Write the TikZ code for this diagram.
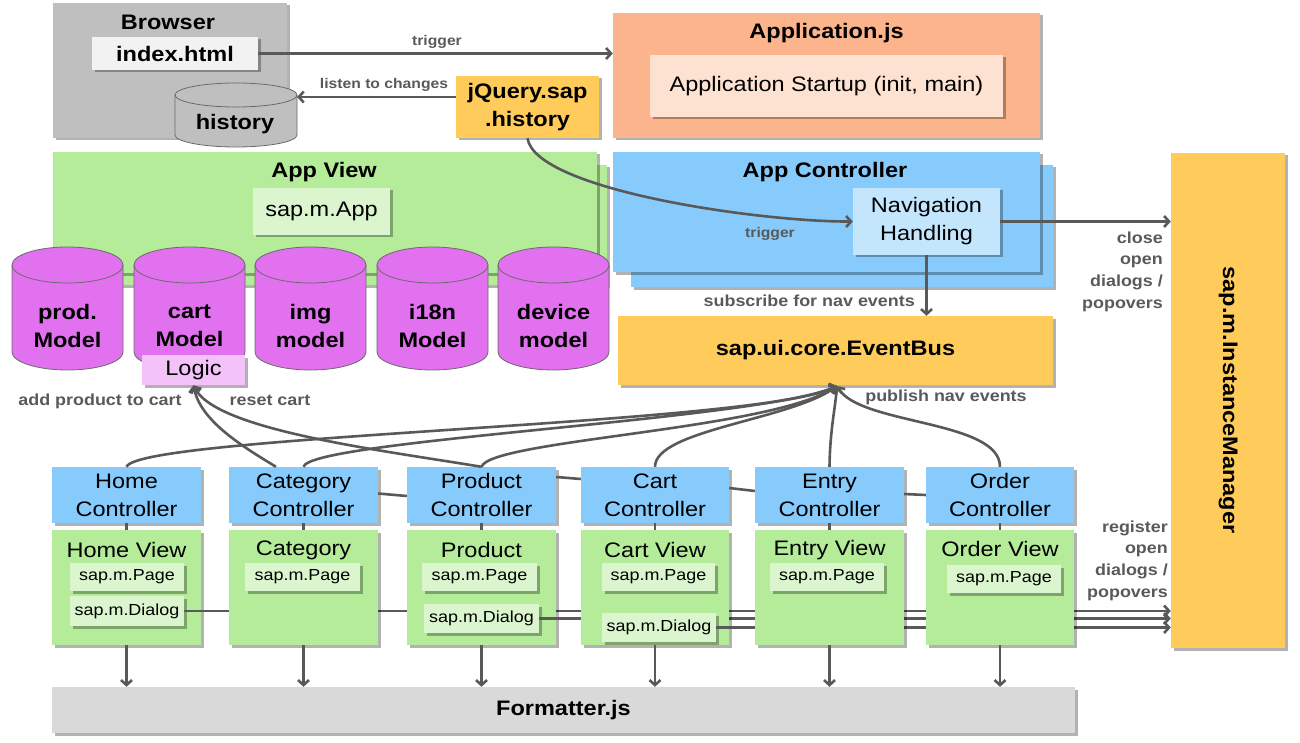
\documentclass[tikz,border=0pt]{standalone}
\usepackage{fontspec}
\setmainfont{Liberation Sans}[FakeStretch=1.12]
\usetikzlibrary{arrows.meta,shadows}
\definecolor{lineg}{HTML}{595959}
\definecolor{cylline}{HTML}{6A6A6A}
\definecolor{browsergray}{HTML}{BFBFBF}
\definecolor{idxwhite}{HTML}{F2F2F2}
\definecolor{appjs}{HTML}{FCB48C}
\definecolor{appjsin}{HTML}{FDE2D2}
\definecolor{sapyel}{HTML}{FFCC5C}
\definecolor{viewgreen}{HTML}{B4EC9A}
\definecolor{viewin}{HTML}{DBF6CE}
\definecolor{ctrlblue}{HTML}{87CBFC}
\definecolor{navin}{HTML}{C4E6FD}
\definecolor{magm}{HTML}{E271F0}
\definecolor{logicpink}{HTML}{F2C2F8}
\definecolor{fmtgray}{HTML}{D9D9D9}
\newcommand\ftitle{\fontsize{21}{28}\selectfont\bfseries}
\newcommand\freg{\fontsize{21}{28}\selectfont}
\newcommand\fsmall{\fontsize{16}{20}\selectfont}
\newcommand\flab{\fontsize{16}{21.7}\selectfont\bfseries}
\newcommand\flabs{\fontsize{14}{17}\selectfont\bfseries}
% cx, top edge, bottom edge, rx, ry, fill
\newcommand\dbcyl[6]{%
  \path[draw=cylline, line width=0.8pt, fill=#6] (#1-#4,#2+#5) -- (#1-#4,#3-#5)
    arc[start angle=180,end angle=360,x radius=#4pt,y radius=#5pt] -- (#1+#4,#2+#5)
    arc[start angle=0,end angle=180,x radius=#4pt,y radius=#5pt] -- cycle;
  \draw[cylline, line width=0.8pt] (#1-#4,#2+#5) arc[start angle=180,end angle=360,x radius=#4pt,y radius=#5pt];
}
\tikzset{
  shd/.style={drop shadow={shadow xshift=2.5pt,shadow yshift=-2.5pt,opacity=0.3,fill=black}},
  blk/.style={rectangle, shd, inner sep=0pt, align=center},
  conn/.style={draw=lineg, line width=2.6pt},
  arr/.style={conn, -{Straight Barb[length=5pt,width=11pt]}},
  lab/.style={font=\flab, text=lineg, inner sep=0pt, align=center},
  labs/.style={font=\flabs, text=lineg, inner sep=0pt, align=center},
  txt/.style={inner sep=0pt, align=center}
}
\begin{document}
\begin{tikzpicture}[x=1pt,y=-1pt]
\useasboundingbox (0,0) rectangle (1300,743);
% ---------- Browser ----------
\node[blk, fill=browsergray, minimum width=234, minimum height=135] (browser) at (170,70.5) {};
\node[txt, font=\ftitle] (browsert) at (168,22) {Browser};
\node[blk, fill=idxwhite, minimum width=166, minimum height=33, font=\ftitle] (idx) at (175,53.5) {index.html};
\dbcyl{236}{83}{147}{61}{12}{browsergray}
\node[txt, font=\ftitle] (hist) at (235,124) {history};
\coordinate (histe) at (297,97);
% ---------- jQuery ----------
\node[blk, fill=sapyel, minimum width=143, minimum height=62, font=\ftitle] (jq) at (527.5,107) {jQuery.sap\\.history};
\coordinate (jql) at (456,97);
% ---------- Application.js ----------
\node[blk, fill=appjs, minimum width=427, minimum height=125] (aj) at (826.5,75.5) {};
\node[txt, font=\ftitle] (ajt) at (826.5,33) {Application.js};
\node[blk, fill=appjsin, minimum width=353, minimum height=62, font=\freg] (ast) at (826.5,86) {Application Startup (init, main)};
% ---------- App View ----------
\node[blk, fill=viewgreen, minimum width=546, minimum height=120] (avb) at (334,225) {};
\node[blk, fill=viewgreen, minimum width=544, minimum height=121] (av) at (325,212.5) {};
\node[txt, font=\ftitle] (avt) at (324,172) {App View};
\node[blk, fill=viewin, minimum width=137, minimum height=47, font=\freg] (sapp) at (321.5,211.5) {sap.m.App};
% ---------- App Controller ----------
\node[blk, fill=ctrlblue, minimum width=422, minimum height=122] (acb) at (842,226) {};
\node[blk, fill=ctrlblue, minimum width=427, minimum height=120] (ac) at (826.5,212) {};
\node[txt, font=\ftitle] (act) at (825,172) {App Controller};
\node[blk, fill=navin, minimum width=147, minimum height=67, font=\freg] (nav) at (926.5,221.5) {Navigation\\Handling};
% ---------- InstanceManager ----------
\node[blk, fill=sapyel, minimum width=114, minimum height=495] (im) at (1228,400.5) {};
\node[txt, font=\ftitle, rotate=-90] (imt) at (1228,400) {sap.m.InstanceManager};
% ---------- EventBus ----------
\node[blk, fill=sapyel, minimum width=435, minimum height=69, font=\ftitle] (eb) at (835.5,350.5) {sap.ui.core.EventBus};
\coordinate (ebs) at (837,386);
% ---------- Models ----------
\dbcyl{67.5}{247}{370}{55.5}{18}{magm}
\dbcyl{189.5}{247}{370}{55.5}{18}{magm}
\dbcyl{310.5}{247}{370}{55.5}{18}{magm}
\dbcyl{432.5}{247}{370}{55.5}{18}{magm}
\dbcyl{553.5}{247}{370}{55.5}{18}{magm}
\node[txt, font=\ftitle] (pm) at (67.5,326) {prod.\\Model};
\node[txt, font=\ftitle] (cm) at (189.5,326) {cart\\Model};
\node[txt, font=\ftitle] (gm) at (310.5,326) {img\\model};
\node[txt, font=\ftitle] (tm) at (432.5,326) {i18n\\Model};
\node[txt, font=\ftitle] (dm) at (553.5,326) {device\\model};
\node[blk, fill=logicpink, minimum width=103, minimum height=30, font=\freg] (logic) at (193.5,370) {Logic};
% ---------- Controllers ----------
\node[blk, fill=ctrlblue, minimum width=149, minimum height=56, font=\freg] (hc) at (126.5,495) {Home\\Controller};
\node[blk, fill=ctrlblue, minimum width=149, minimum height=56, font=\freg] (cc) at (303.5,495) {Category\\Controller};
\node[blk, fill=ctrlblue, minimum width=149, minimum height=56, font=\freg] (pc) at (481.5,495) {Product\\Controller};
\node[blk, fill=ctrlblue, minimum width=148, minimum height=56, font=\freg] (kc) at (655,495) {Cart\\Controller};
\node[blk, fill=ctrlblue, minimum width=149, minimum height=56, font=\freg] (ec) at (829.5,495) {Entry\\Controller};
\node[blk, fill=ctrlblue, minimum width=148, minimum height=56, font=\freg] (oc) at (1000,495) {Order\\Controller};
% ---------- Views (drawn in order, dialog lines between) ----------
\node[blk, fill=viewgreen, minimum width=149, minimum height=115] (hv) at (126.5,587.5) {};
\node[txt, font=\freg] (hvt) at (126.5,550) {Home View};
\node[blk, fill=viewin, minimum width=114, minimum height=28, font=\fsmall] (hp) at (127,577) {sap.m.Page};
\node[blk, fill=viewin, minimum width=114, minimum height=30, font=\fsmall] (hd) at (127,611) {sap.m.Dialog};
\draw[arr] (hd.east) -- (hd.east -| im.west);
\node[blk, fill=viewgreen, minimum width=149, minimum height=115] (cv) at (303.5,587.5) {};
\node[txt, font=\freg] (cvt) at (303.5,550) {Category};
\node[blk, fill=viewin, minimum width=115, minimum height=28, font=\fsmall] (cp) at (302.5,577) {sap.m.Page};
\node[blk, fill=viewgreen, minimum width=149, minimum height=115] (pv) at (481.5,587.5) {};
\node[txt, font=\freg] (pvt) at (481.5,550) {Product};
\node[blk, fill=viewin, minimum width=115, minimum height=28, font=\fsmall] (pp) at (479.5,577) {sap.m.Page};
\node[blk, fill=viewin, minimum width=115, minimum height=29, font=\fsmall] (pd) at (481.5,618.5) {sap.m.Dialog};
\draw[arr] (pd.east) -- (pd.east -| im.west);
\node[blk, fill=viewgreen, minimum width=148, minimum height=115] (kv) at (655,587.5) {};
\node[txt, font=\freg] (kvt) at (655,550) {Cart View};
\node[blk, fill=viewin, minimum width=113, minimum height=28, font=\fsmall] (kp) at (658.5,577) {sap.m.Page};
\node[blk, fill=viewin, minimum width=114, minimum height=29, font=\fsmall] (kd) at (659,627.5) {sap.m.Dialog};
\draw[arr] (kd.east) -- (kd.east -| im.west);
\node[blk, fill=viewgreen, minimum width=149, minimum height=115] (ev) at (829.5,587.5) {};
\node[txt, font=\freg] (evt) at (829.5,550) {Entry View};
\node[blk, fill=viewin, minimum width=114, minimum height=28, font=\fsmall] (ep) at (827,577) {sap.m.Page};
\node[blk, fill=viewgreen, minimum width=148, minimum height=115] (ov) at (1000,587.5) {};
\node[txt, font=\freg] (ovt) at (1000,549) {Order View};
\node[blk, fill=viewin, minimum width=114, minimum height=28, font=\fsmall] (op) at (1004,579) {sap.m.Page};
% ---------- Formatter ----------
\node[blk, fill=fmtgray, minimum width=1023, minimum height=46, font=\ftitle] (fm) at (563.5,710) {Formatter.js};
% ---------- connectors ----------
\draw[arr] (idx.east) -- (idx.east -| aj.west);
\draw[arr] (jql) -- (histe);
\draw[arr] (jq.south) .. controls (535,190) and (760,222) .. (nav.west);
\draw[arr] (nav.south) -- (nav.south |- eb.north);
\draw[arr] (nav.east) -- (nav.east -| im.west);
% controller to event bus
\draw[arr] (hc.north) .. controls (140,435) and (760,425) .. (ebs);
\draw[arr] (cc.north) .. controls (310,440) and (760,420) .. (ebs);
\draw[arr] (pc.north) .. controls (490,440) and (770,430) .. (ebs);
\draw[arr] (kc.north) .. controls (655,430) and (790,420) .. (ebs);
\draw[arr] (ec.north) .. controls (830,430) and (835,410) .. (ebs);
\draw[arr] (oc.north) .. controls (1000,420) and (860,425) .. (ebs);
% controllers to cart logic
\draw[arr] ([xshift=-27.5pt]cc.north) .. controls (240,445) and (200,420) .. (logic.south);
\draw[arr] (pc.north) .. controls (380,450) and (215,430) .. (logic.south);
% links between controllers
\draw[conn] ([yshift=1.5pt]cc.east) -- ([yshift=-1pt]pc.west);
\draw[conn] ([yshift=18pt]pc.east) -- ([yshift=16pt]kc.west);
\draw[conn] ([yshift=7pt]kc.east) -- ([yshift=4pt]ec.west);
\draw[conn] ([yshift=1pt]ec.east) -- ([yshift=0pt]oc.west);
% controller to view
\foreach \c/\v in {hc/hv,cc/cv,pc/pv,kc/kv,ec/ev,oc/ov}{
  \draw[conn] (\c.south) -- (\v.north);
  \draw[arr] (\v.south) -- (\v.south |- fm.north);
}
% ---------- labels ----------
\node[labs] (l1) at (437,42) {trigger};
\node[labs] (l2) at (384,85) {listen to changes};
\node[labs] (l3) at (770,234) {trigger};
\node[lab, anchor=east] (l4) at (915,301) {subscribe for nav events};
\node[lab, anchor=east, align=right] (l5) at (1163,271.5) {close\\open\\dialogs /\\popovers};
\node[lab] (l6) at (946,397) {publish nav events};
\node[lab] (l7) at (100,401) {add product to cart};
\node[lab] (l8) at (270,400) {reset cart};
\node[lab, anchor=east, align=right] (l9) at (1168,560.5) {register\\open\\dialogs /\\popovers};
\end{tikzpicture}
\end{document}
